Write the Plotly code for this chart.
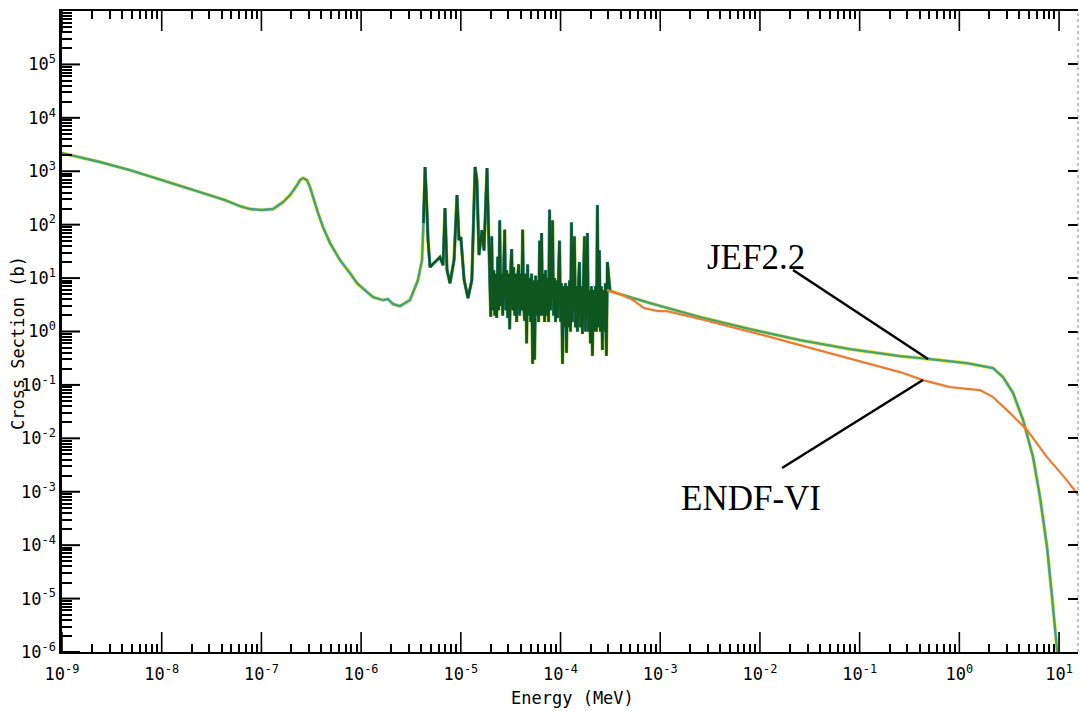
import plotly.graph_objects as go

# ---------------- data (Energy in MeV, cross section in barns) ----------------
# JEF2.2 - thermal / first resonance region
jef_E_thermal = [1.0e-9, 2.40e-9, 4.81e-9, 1.08e-8, 2.42e-8, 4.31e-8, 6.09e-8, 7.69e-8,
                 1.01e-7, 1.31e-7, 1.65e-7, 1.94e-7, 2.28e-7, 2.44e-7, 2.61e-7, 2.86e-7,
                 3.07e-7, 3.30e-7, 3.70e-7, 4.15e-7, 4.88e-7, 6.14e-7, 7.74e-7, 9.09e-7,
                 1.09e-6, 1.32e-6, 1.66e-6, 1.86e-6, 2.09e-6, 2.45e-6, 3.09e-6, 3.72e-6,
                 4.08e-6, 4.22e-6]
jef_s_thermal = [2190, 1490, 1050, 655, 407, 289, 223, 196,
                 188, 196, 265, 358, 552, 684, 746, 684,
                 506, 329, 165, 90, 45.2, 21.7, 12.4, 8.05,
                 5.96, 4.40, 3.87, 4.04, 3.26, 2.99, 3.87, 9.19,
                 21.7, 107]

# JEF2.2 - isolated resonances
jef_E_low = [4.38e-6, 4.53e-6, 4.69e-6, 4.91e-6, 5.51e-6, 6.18e-6, 6.63e-6, 6.94e-6,
             7.27e-6, 7.79e-6, 8.55e-6, 9.16e-6, 9.59e-6, 1.00e-5, 1.08e-5, 1.18e-5,
             1.29e-5, 1.39e-5, 1.45e-5, 1.52e-5, 1.63e-5, 1.71e-5, 1.83e-5, 1.92e-5]
jef_s_low = [1200, 289, 51.5, 16.1, 20.0, 24.7, 17.5, 205,
             14.1, 8.05, 21.7, 358, 51.5, 58.7, 9.19, 4.22,
             9.2, 1200, 684, 27, 79, 33, 1150, 33]

# JEF2.2 - dense resolved resonance region (2e-5 .. 3e-4 MeV)
jef_E_res = [
    1.995e-5, 2.042e-5, 2.089e-5, 2.138e-5, 2.188e-5, 2.239e-5, 2.291e-5, 2.344e-5, 2.399e-5, 2.455e-5,
    2.512e-5, 2.570e-5, 2.630e-5, 2.692e-5, 2.754e-5, 2.818e-5, 2.884e-5, 2.951e-5, 3.020e-5, 3.090e-5,
    3.162e-5, 3.236e-5, 3.311e-5, 3.388e-5, 3.467e-5, 3.548e-5, 3.631e-5, 3.715e-5, 3.802e-5, 3.890e-5,
    3.981e-5, 4.074e-5, 4.169e-5, 4.266e-5, 4.365e-5, 4.467e-5, 4.571e-5, 4.677e-5, 4.786e-5, 4.898e-5,
    5.012e-5, 5.129e-5, 5.248e-5, 5.370e-5, 5.495e-5, 5.623e-5, 5.754e-5, 5.888e-5, 6.026e-5, 6.166e-5,
    6.310e-5, 6.457e-5, 6.607e-5, 6.761e-5, 6.918e-5, 7.079e-5, 7.244e-5, 7.413e-5, 7.586e-5, 7.762e-5,
    7.943e-5, 8.128e-5, 8.318e-5, 8.511e-5, 8.710e-5, 8.913e-5, 9.120e-5, 9.333e-5, 9.550e-5, 9.772e-5,
    1.000e-4, 1.023e-4, 1.047e-4, 1.072e-4, 1.096e-4, 1.122e-4, 1.148e-4, 1.175e-4, 1.202e-4, 1.230e-4,
    1.259e-4, 1.288e-4, 1.318e-4, 1.349e-4, 1.380e-4, 1.413e-4, 1.445e-4, 1.479e-4, 1.514e-4, 1.549e-4,
    1.585e-4, 1.622e-4, 1.660e-4, 1.698e-4, 1.738e-4, 1.778e-4, 1.820e-4, 1.862e-4, 1.905e-4, 1.950e-4,
    1.995e-4, 2.042e-4, 2.089e-4, 2.138e-4, 2.188e-4, 2.239e-4, 2.291e-4, 2.344e-4, 2.399e-4, 2.455e-4,
    2.512e-4, 2.570e-4, 2.630e-4, 2.692e-4, 2.754e-4, 2.818e-4, 2.884e-4, 2.951e-4]
jef_s_res = [
    1.9, 60, 2.5, 14, 2, 12, 1.8, 25, 2.5, 120,
    3, 12, 2, 15, 80, 2.5, 14, 1.8, 12, 1.1,
    14, 35, 2.5, 16, 2, 12, 1.5, 10, 18, 2,
    12, 2.5, 80, 3, 1.6, 12, 0.6, 18, 2, 10,
    1.5, 12, 0.25, 9, 0.3, 11, 2, 9, 1.5, 50,
    2, 70, 2, 12, 1.5, 14, 2, 10, 1.5, 190,
    2.5, 9, 120, 2, 10, 1.5, 9, 1.8, 12, 50,
    1.5, 8, 0.25, 7, 1.2, 8, 0.4, 7, 1.2, 9,
    1.0, 110, 1.5, 8, 60, 1.2, 7, 1.0, 8, 20,
    1.2, 7, 0.9, 8, 60, 1.0, 7, 70, 1.0, 6,
    0.6, 7, 0.35, 6, 1.0, 7, 1.0, 230, 1.2, 33,
    1.0, 7, 0.45, 6, 1.0, 8, 0.35, 20]

# JEF2.2 - fast region
jef_E_fast = [3.14e-4, 7.91e-4, 2.51e-3, 7.96e-3, 2.52e-2, 8.01e-2, 0.254, 0.508,
              1.19, 2.18, 2.74, 3.46, 4.36, 5.49, 6.44, 7.58, 8.51, 9.55, 9.77]
jef_s_fast = [5.7, 3.40, 1.86, 1.11, 0.69, 0.468, 0.346, 0.304,
              0.256, 0.206, 0.140, 0.0702, 0.0219, 4.45e-3, 7.93e-4, 9.18e-5, 1.06e-5, 1.08e-6, 7e-7]

# ENDF-VI - where it departs from JEF2.2 (identical below ~3e-4 MeV)
endf_E = [2.92e-4, 3.95e-4, 5.33e-4, 6.92e-4, 9.55e-4, 1.17e-3, 2.51e-3, 5.37e-3,
          1.18e-2, 2.52e-2, 5.40e-2, 0.119, 0.254, 0.432, 0.807, 1.61,
          2.18, 3.23, 4.78, 7.58, 11.5, 16.2]
endf_s = [5.96, 5.01, 3.87, 2.74, 2.41, 2.41, 1.71, 1.21,
          0.82, 0.556, 0.377, 0.256, 0.174, 0.123, 0.091, 0.080,
          0.0591, 0.0297, 0.0143, 4.45e-3, 1.80e-3, 7.93e-4]

x_tickvals = [1e-9, 1e-8, 1e-7, 1e-6, 1e-5, 1e-4, 1e-3, 1e-2, 1e-1, 1e0, 1e1]
x_ticktext = ["10<sup>-9</sup>", "10<sup>-8</sup>", "10<sup>-7</sup>", "10<sup>-6</sup>",
              "10<sup>-5</sup>", "10<sup>-4</sup>", "10<sup>-3</sup>", "10<sup>-2</sup>",
              "10<sup>-1</sup>", "10<sup>0</sup>", "10<sup>1</sup>"]
y_tickvals = [1e-6, 1e-5, 1e-4, 1e-3, 1e-2, 1e-1, 1e0, 1e1, 1e2, 1e3, 1e4, 1e5]
y_ticktext = ["10<sup>-6</sup>", "10<sup>-5</sup>", "10<sup>-4</sup>", "10<sup>-3</sup>",
              "10<sup>-2</sup>", "10<sup>-1</sup>", "10<sup>0</sup>", "10<sup>1</sup>",
              "10<sup>2</sup>", "10<sup>3</sup>", "10<sup>4</sup>", "10<sup>5</sup>"]

# ---------------- figure ----------------
jef_E = jef_E_thermal + jef_E_low + jef_E_res + jef_E_fast
jef_s = jef_s_thermal + jef_s_low + jef_s_res + jef_s_fast
res_E = jef_E_thermal[-1:] + jef_E_low + jef_E_res + jef_E_fast[:1]
res_s = jef_s_thermal[-1:] + jef_s_low + jef_s_res + jef_s_fast[:1]

fig = go.Figure()
# JEF2.2 printed as overlapping yellow / blue / green strokes
fig.add_trace(go.Scatter(x=jef_E, y=jef_s, mode="lines",
                         line=dict(color="#e8e52c", width=3.6, simplify=False),
                         showlegend=False, hoverinfo="skip"))
fig.add_trace(go.Scatter(x=jef_E, y=jef_s, mode="lines",
                         line=dict(color="#3f9bd6", width=2.4, simplify=False),
                         showlegend=False, hoverinfo="skip"))
fig.add_trace(go.Scatter(x=jef_E, y=jef_s, mode="lines",
                         line=dict(color="#4aa84a", width=1.4, simplify=False),
                         name="JEF2.2", showlegend=False))
fig.add_trace(go.Scatter(x=res_E, y=res_s, mode="lines",
                         line=dict(color="#3f9bd6", width=3.0, simplify=False),
                         showlegend=False, hoverinfo="skip"))
fig.add_trace(go.Scatter(x=res_E, y=res_s, mode="lines",
                         line=dict(color="#0f5520", width=2.4, simplify=False),
                         showlegend=False, hoverinfo="skip"))
fig.add_trace(go.Scatter(x=endf_E, y=endf_s, mode="lines", line=dict(color="#ee7a2e", width=2.2),
                         name="ENDF-VI", showlegend=False))
# empty traces so that the overlay axes carrying minor / right tick marks are drawn
for xa, ya in [("x2", "y"), ("x", "y2"), ("x", "y3")]:
    fig.add_trace(go.Scatter(x=[], y=[], xaxis=xa, yaxis=ya, showlegend=False, hoverinfo="skip"))

minor_x = [m * 10.0 ** k for k in range(-9, 2) for m in range(2, 10)]
minor_y = [m * 10.0 ** k for k in range(-6, 6) for m in range(2, 10)]

tickfont = dict(family="DejaVu Sans Mono", size=17, color="black")
xr = [-9, 1.19]
yr = [-6, 6]


def tick_axis(kind, vals, length, width, **kw):
    d = dict(type="log", showgrid=False, zeroline=False, showline=False,
             showticklabels=False, tickmode="array", tickvals=vals,
             ticks="inside", ticklen=length, tickwidth=width, tickcolor="black")
    d["range"] = xr if kind == "x" else yr
    d.update(kw)
    return d


# major tick marks (inside), drawn as pixel-sized segments at the axis decades
shapes = [dict(type="line", xref="paper", yref="paper", x0=1, x1=1, y0=0, y1=1,
               line=dict(color="#888888", width=1, dash="dot"))]
for v in x_tickvals:
    for anchor, length in [(0, 20), (1, -20)]:
        shapes.append(dict(type="line", xref="x", yref="paper", x0=v, x1=v,
                           ysizemode="pixel", yanchor=anchor, y0=0, y1=length,
                           line=dict(color="black", width=1.6)))
for v in y_tickvals:
    shapes.append(dict(type="line", yref="y", xref="paper", y0=v, y1=v,
                       xsizemode="pixel", xanchor=0, x0=0, x1=18,
                       line=dict(color="black", width=2)))
shapes += [
    dict(type="line", xref="paper", yref="paper", x0=0.7195, y0=0.596, x1=0.8524, y1=0.457,
         line=dict(color="black", width=2.5)),
    dict(type="line", xref="paper", yref="paper", x0=0.7087, y0=0.287, x1=0.8474, y1=0.4243,
         line=dict(color="black", width=2.5)),
]

fig.update_layout(
    width=1080, height=711,
    margin=dict(l=62, r=2, t=11, b=59),
    paper_bgcolor="white", plot_bgcolor="white",
    xaxis=dict(type="log", range=xr, showgrid=False, zeroline=False,
               showline=True, linecolor="black", linewidth=2, mirror=True,
               tickmode="array", tickvals=x_tickvals, ticktext=x_ticktext,
               ticks="", tickfont=tickfont, automargin=False, ticklabelstandoff=6),
    xaxis2=tick_axis("x", minor_x, 8, 1.5, overlaying="x", anchor="y", side="bottom", mirror="ticks"),
    yaxis=dict(type="log", range=yr, showgrid=False, zeroline=False,
               showline=True, linecolor="black", linewidth=2.5, mirror=False,
               tickmode="array", tickvals=y_tickvals, ticktext=y_ticktext,
               ticks="", tickfont=tickfont, automargin=False),
    yaxis2=tick_axis("y", y_tickvals, 10, 2, overlaying="y", side="right", anchor="x"),
    yaxis3=tick_axis("y", minor_y, 10, 1.8, overlaying="y", side="left", anchor="x"),
    shapes=shapes,
    annotations=[
        dict(text="JEF2.2", xref="paper", yref="paper", x=0.683, y=0.616,
             xanchor="center", yanchor="middle", showarrow=False,
             font=dict(family="Liberation Serif", size=35, color="black")),
        dict(text="ENDF-VI", xref="paper", yref="paper", x=0.678, y=0.240,
             xanchor="center", yanchor="middle", showarrow=False,
             font=dict(family="Liberation Serif", size=35, color="black")),
        dict(text="Energy (MeV)", xref="paper", yref="paper", x=0.502, y=-0.0718,
             xanchor="center", yanchor="middle", showarrow=False,
             font=dict(family="DejaVu Sans Mono", size=17, color="black")),
        dict(text="Cross Section (b)", xref="paper", yref="paper", x=-0.0433, y=0.482,
             xanchor="center", yanchor="middle", textangle=-90, showarrow=False,
             font=dict(family="DejaVu Sans Mono", size=17, color="black")),
    ],
)

fig.write_html("out.html")
